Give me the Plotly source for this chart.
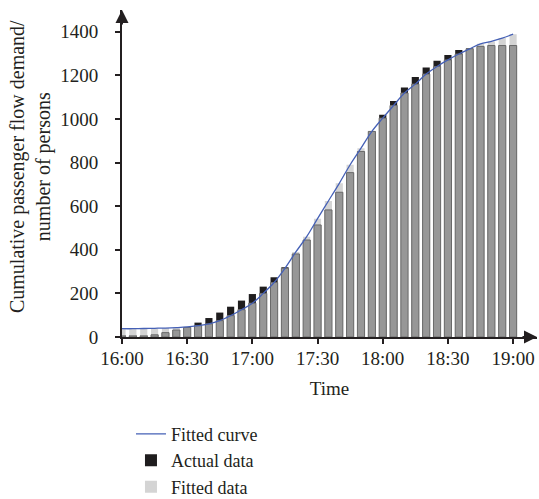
import plotly.graph_objects as go
import pandas as pd

times = ["16:00", "16:05", "16:10", "16:15", "16:20", "16:25", "16:30", "16:35", "16:40",
         "16:45", "16:50", "16:55", "17:00", "17:05", "17:10", "17:15", "17:20", "17:25",
         "17:30", "17:35", "17:40", "17:45", "17:50", "17:55", "18:00", "18:05", "18:10",
         "18:15", "18:20", "18:25", "18:30", "18:35", "18:40", "18:45", "18:50", "18:55",
         "19:00"]
actual = [5, 5, 5, 10, 20, 32, 44, 66, 87, 112, 139, 167, 197, 231, 274, 320, 381, 445,
          514, 583, 664, 754, 851, 943, 1019, 1083, 1145, 1193, 1236, 1267, 1294, 1317,
          1325, 1333, 1337, 1337, 1337]
fitted = [38, 38, 39, 40, 41, 43, 46, 52, 60, 75, 98, 125, 155, 200, 250, 315, 390, 460,
          543, 624, 705, 790, 866, 943, 1004, 1062, 1119, 1160, 1206, 1241, 1271, 1298,
          1322, 1345, 1356, 1371, 1389]
x_tick_labels = ["16:00", "16:30", "17:00", "17:30", "18:00", "18:30", "19:00"]
y_ticks = [0, 200, 400, 600, 800, 1000, 1200, 1400]

DAY = "2024-01-01 "
x = pd.to_datetime([DAY + t for t in times])
x_ticks = pd.to_datetime([DAY + t for t in x_tick_labels])
overlap = [min(a, f) for a, f in zip(actual, fitted)]

FONT = "Liberation Serif"
BAR_W = 3.3 * 60 * 1000

fig = go.Figure()
fig.add_bar(x=x, y=actual, name="Actual data", width=BAR_W, legendrank=2,
            marker=dict(color="#1f1d1e", line=dict(width=0)))
fig.add_bar(x=x, y=fitted, name="Fitted data", width=BAR_W, legendrank=3,
            marker=dict(color="#d4d4d4", line=dict(width=0)))
fig.add_bar(x=x, y=overlap, showlegend=False, width=BAR_W, hoverinfo="skip",
            marker=dict(color="#979797", line=dict(color="#6a6a6a", width=1)))
fig.add_scatter(x=x, y=fitted, mode="lines", name="Fitted curve", legendrank=1,
                line=dict(color="#4560b6", width=1.3, shape="spline"))

fig.update_layout(
    width=539, height=499,
    margin=dict(l=122, r=2, t=10, b=162, autoexpand=False),
    barmode="overlay",
    plot_bgcolor="white", paper_bgcolor="white",
    font=dict(family=FONT, size=19, color="#231f20"),
    showlegend=True,
    legend=dict(xref="container", yref="container", x=0.243, y=0.167,
                xanchor="left", yanchor="top",
                font=dict(family=FONT, size=18, color="#231f20"),
                bgcolor="rgba(0,0,0,0)", tracegroupgap=0),
    xaxis=dict(type="date", range=[DAY + "16:00", DAY + "19:11"],
               tickvals=x_ticks, ticktext=x_tick_labels,
               ticks="outside", ticklen=5, tickwidth=2, tickcolor="#231f20",
               ticklabelstandoff=-2,
               showline=True, linecolor="#231f20", linewidth=2, showgrid=False,
               zeroline=False,
               title=dict(text="Time", standoff=14, font=dict(size=19))),
    yaxis=dict(range=[0, 1500], tickvals=y_ticks,
               ticks="outside", ticklen=5, tickwidth=2, tickcolor="#231f20",
               ticklabelstandoff=13,
               showline=True, linecolor="#231f20", linewidth=2, showgrid=False,
               zeroline=False),
)

fig.add_annotation(x=1, y=0, xref="paper", yref="paper", ax=-16, ay=0,
                   axref="pixel", ayref="pixel", text="", showarrow=True,
                   arrowhead=2, arrowsize=1.3, arrowwidth=2, arrowcolor="#231f20")
fig.add_annotation(x=0, y=1, xref="paper", yref="paper", ax=0, ay=16,
                   axref="pixel", ayref="pixel", text="", showarrow=True,
                   arrowhead=2, arrowsize=1.3, arrowwidth=2, arrowcolor="#231f20")
fig.add_annotation(x=-0.219, y=0.52, xref="paper", yref="paper", showarrow=False,
                   textangle=-90, xanchor="center", yanchor="middle",
                   text="Cumulative passenger flow demand/<br>number of persons",
                   font=dict(family=FONT, size=20, color="#231f20"))

fig.write_html("out.html")
